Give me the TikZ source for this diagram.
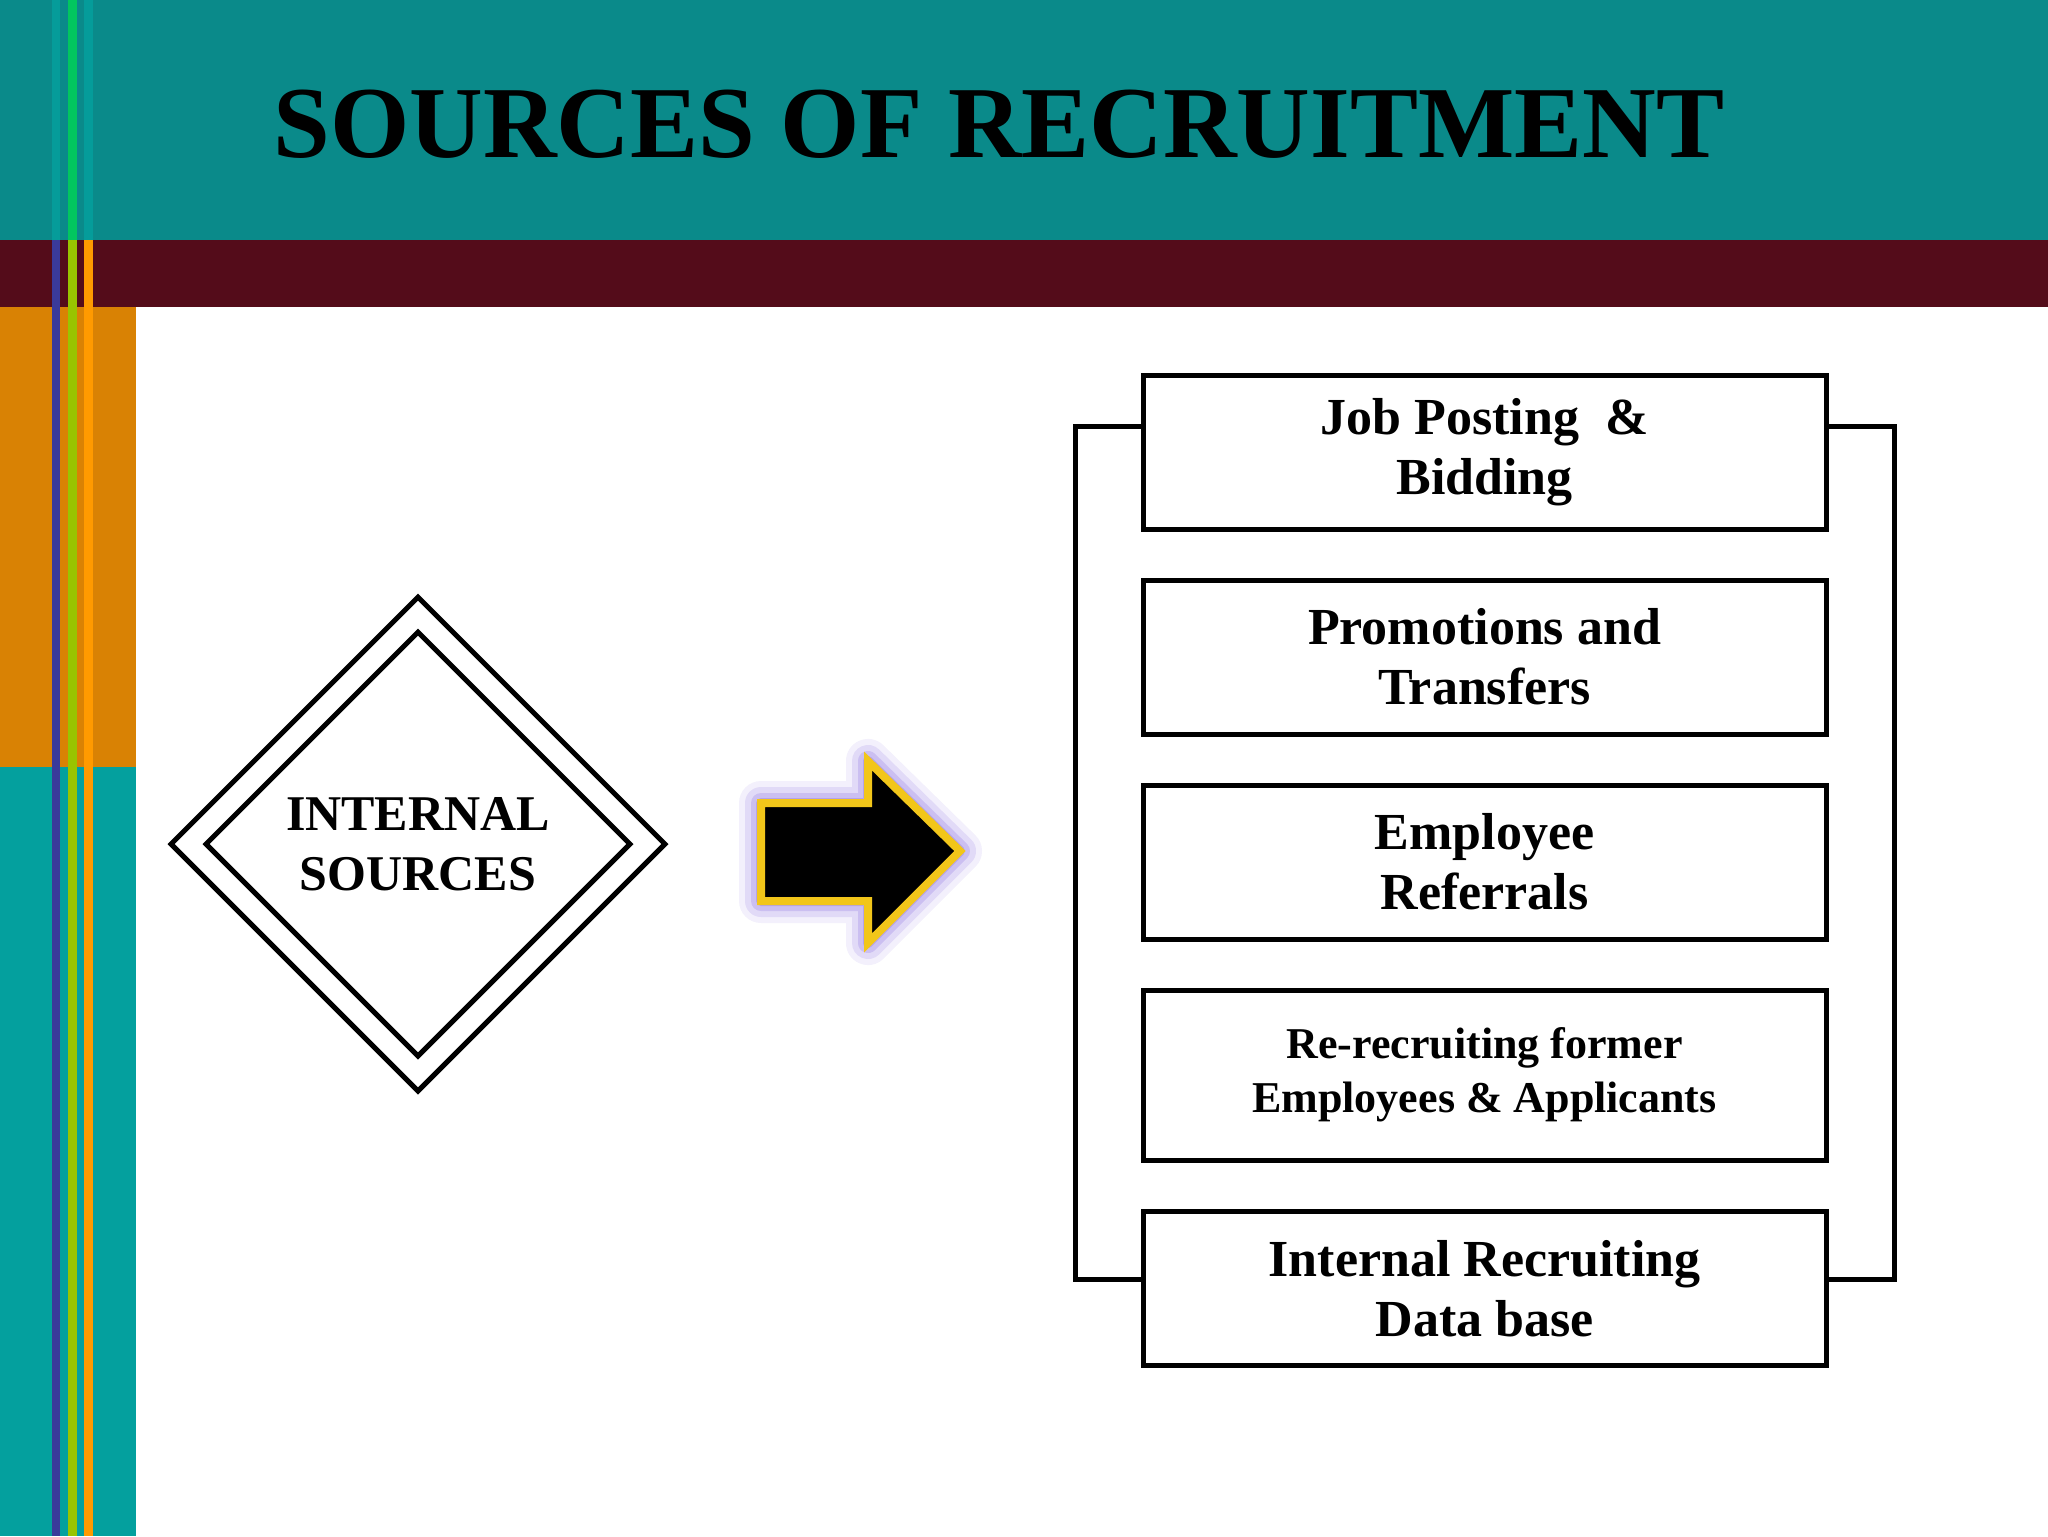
\documentclass[tikz,border=0pt]{standalone}
\usepackage{fontspec}
\setmainfont{Liberation Serif}
\usetikzlibrary{shapes.geometric}
\definecolor{teal1}{HTML}{0A8A8A}
\definecolor{teal2}{HTML}{04A09E}
\definecolor{maroon1}{HTML}{540C1A}
\definecolor{orange1}{HTML}{D98204}
\definecolor{stripeblue}{HTML}{3A3A9A}
\definecolor{stripegreen}{HTML}{99C400}
\definecolor{stripeor}{HTML}{FF9A00}
\definecolor{gold1}{HTML}{F2C61A}
\tikzset{item/.style={draw,line width=2.5pt,minimum width=341.5pt,minimum height=77pt,align=center,font=\bfseries\fontsize{26}{30}\selectfont,inner sep=0pt},
bracket/.style={line width=2.5pt}}
\begin{document}
\begin{tikzpicture}[x=0.5pt,y=-0.5pt]
\useasboundingbox (0,0) rectangle (2048,1536);
\fill[white] (0,0) rectangle (2048,1536);
\fill[teal1] (0,0) rectangle (2048,240);
\fill[maroon1] (0,240) rectangle (2048,307);
\fill[orange1] (0,307) rectangle (136,767);
\fill[teal2] (0,767) rectangle (136,1536);
\fill[stripeblue] (52,240) rectangle (60,1536);
\fill[stripegreen] (68,240) rectangle (77,1536);
\fill[stripeor] (84,240) rectangle (93,1536);
\fill[teal2!80!teal1] (52,0) rectangle (60,240);
\fill[teal2!60!green] (68,0) rectangle (77,240);
\fill[teal2!80!teal1] (84,0) rectangle (93,240);
\node[font=\bfseries\fontsize{51}{56}\selectfont] (title) at (999,124) {SOURCES OF RECRUITMENT};
% diamond
\node[diamond,draw,line width=2.5pt,minimum width=248pt,minimum height=248pt,inner sep=0pt] (outer) at (418,844) {};
\node[diamond,draw,line width=2.5pt,minimum width=213pt,minimum height=213pt,inner sep=0pt,align=center,font=\bfseries\fontsize{25}{30}\selectfont] (inner) at (418,844) {INTERNAL\\SOURCES};
% arrow with glow
\foreach \g/\o in {22/0.06,16/0.09,10/0.12,5/0.15}{
\fill[blue!60!violet,opacity=\o,line join=round,line width=\g pt,draw=blue!60!violet,draw opacity=\o]
(761,803) -- (868,803) -- (868,761) -- (960,851) -- (868,943) -- (868,901) -- (761,901) -- cycle;}
\draw[fill=black,draw=gold1,line width=4pt] (761,803) -- (868,803) -- (868,761) -- (960,851) -- (868,943) -- (868,901) -- (761,901) -- cycle;
% boxes
\node[item] (b1) at (1484.5,452) {Job Posting~~\&\\Bidding};
\node[item] (b2) at (1484.5,657) {Promotions and\\Transfers};
\node[item] (b3) at (1484.5,862) {Employee\\Referrals};
\node[item,minimum height=85pt,font=\bfseries\fontsize{22}{27}\selectfont] (b4) at (1484.5,1075) {Re-recruiting former\\Employees \& Applicants};
\node[item] (b5) at (1484.5,1288.5) {Internal Recruiting\\Data base};
\draw[bracket] (b1.west|-0,426) -| (1075,1279) -- (b5.west|-0,1279);
\draw[bracket] (b1.east|-0,426) -| (1894,1279) -- (b5.east|-0,1279);
\end{tikzpicture}
\end{document}
